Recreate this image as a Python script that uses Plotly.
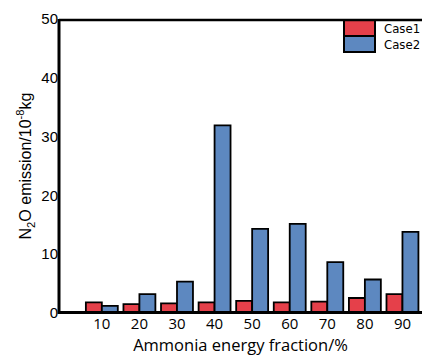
import plotly.graph_objects as go

fractions = [10, 20, 30, 40, 50, 60, 70, 80, 90]
case1 = [1.8, 1.5, 1.65, 1.8, 2.05, 1.8, 1.95, 2.55, 3.2]
case2 = [1.2, 3.2, 5.35, 31.9, 14.3, 15.15, 8.65, 5.7, 13.8]
y_ticks = [0, 10, 20, 30, 40, 50]
series_names = ["Case1", "Case2"]
series_colors = ["#e5404a", "#5d88c0"]

fig = go.Figure()
for name, vals, col in zip(series_names, [case1, case2], series_colors):
    fig.add_trace(go.Bar(x=fractions, y=vals, name=name, showlegend=False,
                         marker=dict(color=col, line=dict(color="black", width=1.8))))

# manual legend (large swatches like the reference)
L, T, PW, PH = 59, 19, 363, 294
def px(xp):
    return (xp - L) / PW
def py(yp):
    return (T + PH - yp) / PH

shapes = []
annotations = []
rows = [(20, 36), (36, 52)]
for (y0, y1), name, col in zip(rows, series_names, series_colors):
    shapes.append(dict(type="rect", xref="paper", yref="paper",
                       x0=px(344), x1=px(375), y0=py(y1), y1=py(y0),
                       fillcolor=col, line=dict(color="black", width=2), layer="above"))
    annotations.append(dict(text=name, xref="paper", yref="paper", x=px(382), y=py((y0 + y1) / 2),
                            xanchor="left", yanchor="middle", showarrow=False,
                            font=dict(family="DejaVu Sans Condensed, Liberation Sans Narrow, Arial",
                                      size=13, color="black")))

# frame lines: top, left, bottom
shapes += [
    dict(type="line", xref="paper", yref="paper", x0=0, x1=1, y0=py(20), y1=py(20),
         line=dict(color="black", width=2.5), layer="above"),
    dict(type="line", xref="paper", yref="paper", x0=0, x1=0, y0=py(314), y1=py(19),
         line=dict(color="black", width=3), layer="above"),
    dict(type="line", xref="paper", yref="paper", x0=0, x1=1, y0=py(312.5), y1=py(312.5),
         line=dict(color="black", width=3), layer="above"),
]

fig.update_layout(
    width=422, height=361,
    margin=dict(l=59, r=0, t=19, b=48),
    plot_bgcolor="white", paper_bgcolor="white",
    barmode="group", bargap=0.15, bargroupgap=0,
    showlegend=False,
    xaxis=dict(range=[-1.4, 95.2], tickvals=fractions, ticktext=[str(v) for v in fractions],
               showgrid=False, zeroline=False, showline=False,
               ticks="", tickfont=dict(family="Open Sans, Noto Sans", size=15, color="black"),
               title=dict(text="Ammonia energy fraction/%", standoff=2,
                          font=dict(family="Open Sans, Noto Sans", size=16.5, color="black"))),
    yaxis=dict(range=[0, 50], tickvals=y_ticks, showgrid=False, zeroline=False,
               showline=False, ticks="",
               tickfont=dict(family="Liberation Sans, Arial", size=15, color="black"),
               title=dict(text="N<sub>2</sub>O emission/10<sup>-8</sup>kg", standoff=5,
                          font=dict(family="Liberation Sans, Arial", size=16, color="black"))),
    shapes=shapes,
    annotations=annotations,
)

fig.write_html("out.html")
